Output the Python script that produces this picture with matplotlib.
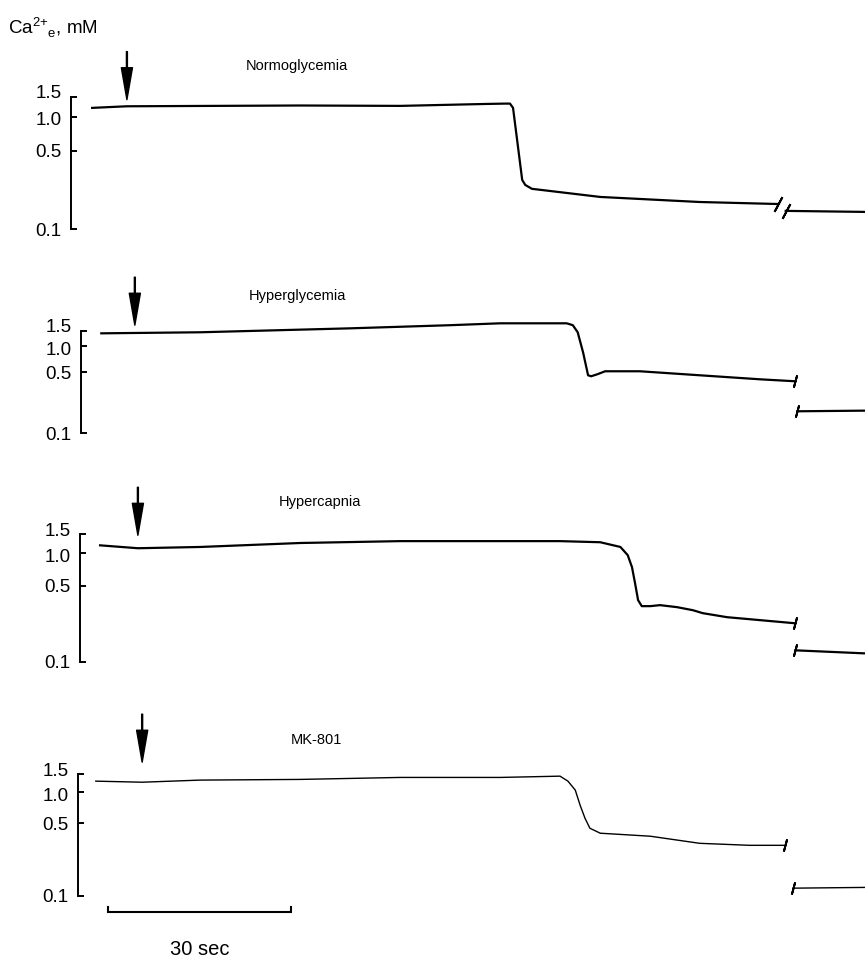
"""Extracellular Ca2+ traces, four conditions (log scale, with time breaks)."""

import matplotlib
matplotlib.use("Agg")
import matplotlib.pyplot as plt
import matplotlib.transforms as mtransforms

plt.rcParams["font.family"] = ["Liberation Sans", "DejaVu Sans"]
plt.rcParams["mathtext.fontset"] = "custom"
plt.rcParams["mathtext.rm"] = "Liberation Sans"

# ---- data (time in s, Ca2+e in mM) ----
TITLES = ["Normoglycemia", "Hyperglycemia", "Hypercapnia", "MK-801"]

NORMO_T = [-2.6, 3.1, 31.5, 47.9, 61.8, 65.1, 65.9, 66.4, 67.9, 68.4, 69.5, 80.7, 97.0, 109.8]
NORMO_CA = [1.20, 1.24, 1.26, 1.25, 1.30, 1.31, 1.31, 1.20, 0.274, 0.247, 0.228, 0.193, 0.174, 0.167]
NORMO_T2 = [111.1, 124.1]
NORMO_CA2 = [0.145, 0.142]

HYPERGLY_T = [-1.1, 15.1, 39.7, 56.1, 64.3, 75.2, 76.2, 77.0, 77.9, 78.7, 79.2, 80.2, 81.5, 87.2, 97.0, 106.9, 112.6]
HYPERGLY_CA = [1.41, 1.45, 1.61, 1.75, 1.84, 1.84, 1.75, 1.45, 0.84, 0.463, 0.451, 0.475, 0.515, 0.515, 0.463, 0.416, 0.395]
HYPERGLY_T2 = [113.0, 124.1]
HYPERGLY_CA2 = [0.178, 0.181]

HYPERCAP_T = [-1.3, 4.9, 15.1, 31.5, 47.9, 64.3, 74.1, 80.7, 84.0, 85.2, 85.9, 86.4, 86.9, 87.5, 88.9, 90.5, 93.3, 95.9, 97.5, 101.5, 112.6]
HYPERCAP_CA = [1.18, 1.11, 1.14, 1.24, 1.29, 1.29, 1.29, 1.26, 1.14, 0.959, 0.744, 0.530, 0.370, 0.326, 0.326, 0.333, 0.319, 0.299, 0.281, 0.258, 0.227]
HYPERCAP_T2 = [112.7, 124.1]
HYPERCAP_CA2 = [0.128, 0.120]

MK801_T = [-2.0, 5.6, 15.1, 31.5, 47.9, 64.3, 74.1, 75.4, 76.6, 77.4, 78.2, 79.0, 80.7, 88.9, 97.0, 105.2, 111.0]
MK801_CA = [1.28, 1.25, 1.31, 1.33, 1.39, 1.39, 1.43, 1.28, 1.05, 0.749, 0.561, 0.450, 0.403, 0.377, 0.322, 0.308, 0.308]
MK801_T2 = [112.3, 124.1]
MK801_CA2 = [0.119, 0.121]

ARROW_T = [3.1, 4.4, 4.9, 5.6]
ARROW_CA = [1.42, 1.75, 1.46, 1.95]

Y_TICKS = [0.1, 0.5, 1.0, 1.5]
Y_TICK_LABELS = ["0.1", "0.5", "1.0", "1.5"]
SCALE_BAR_SEC = 30

traces = [
    (NORMO_T, NORMO_CA, NORMO_T2, NORMO_CA2),
    (HYPERGLY_T, HYPERGLY_CA, HYPERGLY_T2, HYPERGLY_CA2),
    (HYPERCAP_T, HYPERCAP_CA, HYPERCAP_T2, HYPERCAP_CA2),
    (MK801_T, MK801_CA, MK801_T2, MK801_CA2),
]

# ---- layout (pixels of the 865x959 figure) ----
W, H = 865, 959
T0_PX, PX_PER_SEC = 108, 6.1
AX_PX = [(71, 97, 229), (81, 331, 433), (80, 534, 662), (78, 774, 896)]  # spine x, top y, bottom y
TITLE_PX = [(297, 66), (297, 296), (320, 502), (316, 740)]
LINE_W = [1.6, 1.6, 1.6, 1.0]
BREAK_MARK = [((2, 2, -28), 12), ((2, 2, -15), 9), ((2, 2, -15), 9), ((2, 2, -15), 9)]

fig = plt.figure(figsize=(W / 100, H / 100), dpi=100)
up = mtransforms.ScaledTranslation(0, 0.05, fig.dpi_scale_trans)
down = mtransforms.ScaledTranslation(0, -0.02, fig.dpi_scale_trans)

axes = []
for i, (t1, c1, t2, c2) in enumerate(traces):
    sx, ty, by = AX_PX[i]
    ax = fig.add_axes([sx / W, 1 - by / H, (W - sx) / W, (by - ty) / H])
    ax.set_yscale("log")
    ax.set_ylim(0.1, 1.5)
    ax.set_xlim((sx - T0_PX) / PX_PER_SEC, (W - T0_PX) / PX_PER_SEC)
    ax.patch.set_visible(False)

    for s in ["top", "right", "bottom"]:
        ax.spines[s].set_visible(False)
    ax.spines["left"].set_linewidth(1.4)
    ax.xaxis.set_visible(False)
    ax.yaxis.set_minor_locator(matplotlib.ticker.NullLocator())
    ax.set_yticks(Y_TICKS, Y_TICK_LABELS)
    ax.tick_params(axis="y", direction="in", length=4.5, width=1.4, pad=7, labelsize=13.5)
    for lab in ax.get_yticklabels():
        if lab.get_text() == "1.5":
            lab.set_transform(lab.get_transform() + up)
        elif lab.get_text() == "1.0":
            lab.set_transform(lab.get_transform() + down)

    mk, ms = BREAK_MARK[i]
    ax.plot(t1, c1, color="black", lw=LINE_W[i], clip_on=False,
            marker=mk, markevery=[len(t1) - 1], ms=ms, mew=1.4, mec="black")
    ax.plot(t2, c2, color="black", lw=LINE_W[i], clip_on=False,
            marker=mk, markevery=[0], ms=ms, mew=1.4, mec="black")

    ax.annotate("", xy=(ARROW_T[i], ARROW_CA[i]), xytext=(0, 48), textcoords="offset pixels",
                arrowprops=dict(facecolor="black", edgecolor="black", width=0.7,
                                headwidth=8, headlength=23, shrink=0),
                annotation_clip=False)

    tx, tyy = TITLE_PX[i]
    fig.text(tx / W, 1 - tyy / H, TITLES[i], ha="center", va="center", fontsize=10.5)
    axes.append(ax)

fig.text(8 / W, 1 - 28 / H, r"Ca$^{\mathregular{2{+}}}$$_{\mathregular{e}}$, mM",
         ha="left", va="center", fontsize=13.5)

# 30 s scale bar under the last panel
ax = axes[-1]
tr = ax.get_xaxis_transform()
ax.plot([0, 0, SCALE_BAR_SEC, SCALE_BAR_SEC], [-0.09, -0.131, -0.131, -0.09],
        transform=tr, color="black", lw=1.5, clip_on=False, solid_joinstyle="miter")
ax.text(SCALE_BAR_SEC / 2, -0.44, "30 sec", transform=tr, ha="center", va="center", fontsize=14.5)

fig.savefig("out.png", dpi=100)
